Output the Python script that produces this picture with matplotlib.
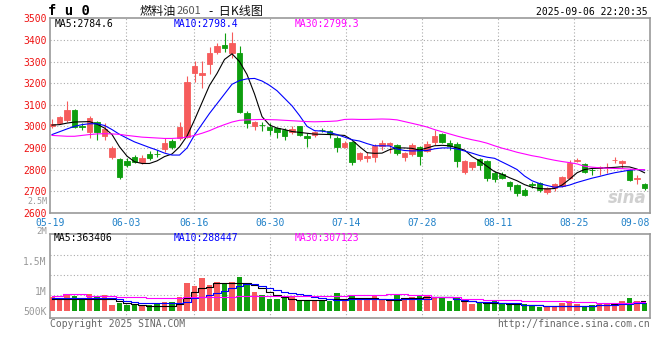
import matplotlib
matplotlib.use('Agg')
import matplotlib.pyplot as plt
import matplotlib.transforms as mtransforms
import numpy as np

# daily candles, 05-19 .. 09-08
opens = [3002, 3017, 3029, 3076, 3000, 2975, 3022, 2957, 2860, 2849,
         2840, 2860, 2833, 2872, 2873, 2895, 2933, 2944, 2950, 3245,
         3238, 3287, 3346, 3377, 3338, 3338, 3060, 3003, 3007, 2998,
         2994, 2983, 2975, 3001, 2957, 2960, 2984, 2978, 2948, 2906,
         2926, 2847, 2855, 2859, 2910, 2913, 2913, 2860, 2870, 2906,
         2886, 2926, 2964, 2921, 2917, 2787, 2813, 2849, 2840, 2782,
         2778, 2741, 2728, 2705, 2733, 2736, 2697, 2713, 2725, 2759,
         2839, 2824, 2799, 2806, 2810, 2842, 2829, 2798, 2757, 2733]
highs = [3034, 3049, 3117, 3080, 3014, 3049, 3026, 3014, 2909, 2855,
         2852, 2867, 2867, 2886, 2890, 2948, 2941, 3019, 3235, 3303,
         3303, 3369, 3384, 3431, 3439, 3374, 3071, 3025, 3021, 3014,
         2998, 2991, 3003, 3003, 2968, 2978, 2994, 2983, 2957, 2932,
         2932, 2883, 2883, 2917, 2937, 2926, 2917, 2883, 2921, 2910,
         2932, 2983, 2968, 2937, 2929, 2844, 2836, 2855, 2844, 2793,
         2790, 2747, 2731, 2716, 2744, 2741, 2721, 2736, 2772, 2844,
         2852, 2829, 2809, 2818, 2829, 2860, 2844, 2802, 2775, 2736]
lows = [2991, 3011, 3019, 2994, 2985, 2948, 2937, 2937, 2847, 2756,
        2813, 2829, 2826, 2844, 2858, 2880, 2895, 2937, 2945, 3207,
        3179, 3241, 3333, 3346, 3315, 3060, 2991, 2983, 2978, 2960,
        2944, 2937, 2963, 2957, 2906, 2952, 2972, 2948, 2880, 2898,
        2821, 2841, 2836, 2836, 2890, 2875, 2867, 2839, 2864, 2821,
        2880, 2914, 2921, 2890, 2813, 2778, 2798, 2798, 2747, 2744,
        2756, 2705, 2679, 2679, 2716, 2697, 2685, 2701, 2721, 2756,
        2836, 2782, 2775, 2775, 2782, 2829, 2809, 2747, 2731, 2705]
closes = [3012, 3043, 3076, 2998, 2997, 3037, 2972, 2988, 2898, 2767,
          2821, 2836, 2855, 2855, 2870, 2921, 2906, 2998, 3207, 3281,
          3249, 3338, 3374, 3364, 3385, 3065, 3014, 3021, 3004, 2983,
          2972, 2957, 2988, 2960, 2944, 2975, 2981, 2963, 2906, 2924,
          2836, 2878, 2862, 2910, 2921, 2921, 2875, 2875, 2914, 2864,
          2918, 2955, 2929, 2911, 2841, 2840, 2833, 2821, 2762, 2755,
          2762, 2725, 2693, 2682, 2730, 2705, 2716, 2731, 2767, 2829,
          2843, 2787, 2797, 2813, 2813, 2846, 2841, 2751, 2760, 2713]

ma5 = [3006, 3008, 3015, 3020, 3021, 3022, 3010, 2992, 2962, 2905,
       2862, 2836, 2828, 2828, 2840, 2860, 2872, 2905, 2955, 3030,
       3110, 3190, 3245, 3310, 3336, 3300, 3240, 3150, 3045, 3006,
       2992, 2985, 2976, 2972, 2968, 2964, 2963, 2962, 2960, 2958,
       2937, 2906, 2878, 2875, 2876, 2892, 2900, 2900, 2898, 2890,
       2900, 2910, 2912, 2910, 2900, 2890, 2860, 2840, 2815, 2790,
       2778, 2762, 2748, 2730, 2718, 2712, 2710, 2712, 2728, 2755,
       2785, 2800, 2805, 2806, 2808, 2810, 2813, 2812, 2802, 2785]
ma10 = [2962, 2975, 2988, 3000, 3008, 3012, 3012, 3004, 2985, 2963,
        2945, 2928, 2915, 2902, 2890, 2876, 2867, 2867, 2900, 2960,
        3010, 3060, 3105, 3150, 3195, 3212, 3220, 3222, 3210, 3190,
        3165, 3130, 3095, 3050, 3000, 2980, 2978, 2972, 2962, 2950,
        2938, 2932, 2920, 2910, 2910, 2909, 2895, 2888, 2886, 2887,
        2888, 2896, 2900, 2900, 2895, 2886, 2876, 2865, 2857, 2852,
        2835, 2818, 2800, 2770, 2748, 2735, 2726, 2718, 2720, 2728,
        2740, 2750, 2760, 2768, 2777, 2785, 2791, 2797, 2800, 2798]
ma30 = [2958, 2956, 2954, 2954, 2958, 2962, 2965, 2966, 2965, 2963,
        2958, 2954, 2950, 2948, 2946, 2944, 2944, 2946, 2950, 2958,
        2968, 2980, 2995, 3008, 3020, 3028, 3030, 3031, 3032, 3031,
        3030, 3028, 3026, 3024, 3022, 3021, 3022, 3023, 3025, 3032,
        3033, 3032, 3032, 3033, 3034, 3033, 3030, 3022, 3014, 3006,
        2997, 2985, 2975, 2965, 2955, 2946, 2938, 2931, 2922, 2910,
        2899, 2890, 2880, 2872, 2864, 2858, 2850, 2843, 2837, 2832,
        2826, 2815, 2811, 2808, 2806, 2805, 2804, 2802, 2800, 2799]

volume = [493e3, 419e3, 617e3, 543e3, 419e3, 617e3, 543e3, 567e3, 222e3, 296e3,
          222e3, 222e3, 173e3, 197e3, 271e3, 321e3, 333e3, 493e3, 1036e3, 912e3,
          1208e3, 949e3, 1073e3, 1036e3, 1073e3, 1245e3, 949e3, 703e3, 567e3, 432e3,
          432e3, 493e3, 493e3, 395e3, 395e3, 395e3, 395e3, 365e3, 666e3, 395e3,
          567e3, 395e3, 395e3, 567e3, 444e3, 419e3, 592e3, 456e3, 493e3, 567e3,
          543e3, 518e3, 456e3, 370e3, 456e3, 321e3, 247e3, 321e3, 321e3, 345e3,
          271e3, 271e3, 271e3, 247e3, 197e3, 148e3, 148e3, 173e3, 296e3, 345e3,
          247e3, 173e3, 197e3, 247e3, 271e3, 271e3, 370e3, 469e3, 370e3, 296e3]
vol_ma5 = [432e3, 432e3, 432e3, 432e3, 432e3, 432e3, 432e3, 432e3, 432e3, 370e3,
           296e3, 247e3, 210e3, 173e3, 173e3, 173e3, 173e3, 247e3, 456e3, 703e3,
           826e3, 888e3, 1011e3, 1011e3, 1011e3, 1011e3, 1011e3, 949e3, 826e3, 703e3,
           580e3, 493e3, 432e3, 395e3, 395e3, 395e3, 395e3, 432e3, 432e3, 432e3,
           456e3, 456e3, 456e3, 456e3, 420e3, 395e3, 395e3, 456e3, 456e3, 456e3,
           493e3, 493e3, 493e3, 493e3, 420e3, 370e3, 345e3, 320e3, 296e3, 271e3,
           271e3, 259e3, 247e3, 222e3, 210e3, 197e3, 173e3, 173e3, 173e3, 173e3,
           185e3, 173e3, 173e3, 197e3, 210e3, 235e3, 271e3, 296e3, 320e3, 363e3]
vol_ma10 = [456e3, 456e3, 456e3, 456e3, 456e3, 456e3, 456e3, 456e3, 456e3, 420e3,
            370e3, 308e3, 271e3, 271e3, 271e3, 271e3, 271e3, 271e3, 333e3, 456e3,
            518e3, 580e3, 666e3, 740e3, 826e3, 912e3, 974e3, 986e3, 912e3, 826e3,
            765e3, 703e3, 666e3, 617e3, 580e3, 518e3, 481e3, 420e3, 395e3, 395e3,
            420e3, 420e3, 420e3, 420e3, 420e3, 420e3, 420e3, 420e3, 420e3, 420e3,
            420e3, 493e3, 493e3, 493e3, 444e3, 395e3, 370e3, 333e3, 333e3, 333e3,
            271e3, 271e3, 271e3, 210e3, 210e3, 210e3, 173e3, 173e3, 173e3, 173e3,
            173e3, 173e3, 185e3, 197e3, 210e3, 222e3, 247e3, 259e3, 271e3, 288e3]
vol_ma30 = [543e3, 543e3, 617e3, 617e3, 617e3, 543e3, 543e3, 543e3, 543e3, 493e3,
            493e3, 493e3, 493e3, 456e3, 456e3, 456e3, 456e3, 456e3, 518e3, 518e3,
            518e3, 518e3, 518e3, 518e3, 518e3, 543e3, 543e3, 543e3, 543e3, 543e3,
            543e3, 543e3, 543e3, 543e3, 543e3, 543e3, 543e3, 543e3, 543e3, 543e3,
            580e3, 580e3, 580e3, 580e3, 580e3, 617e3, 617e3, 617e3, 567e3, 567e3,
            567e3, 518e3, 518e3, 518e3, 518e3, 444e3, 444e3, 444e3, 395e3, 395e3,
            395e3, 395e3, 395e3, 370e3, 370e3, 370e3, 370e3, 370e3, 370e3, 333e3,
            333e3, 333e3, 333e3, 300e3, 300e3, 300e3, 300e3, 300e3, 307e3, 307e3]

tick_index = [0, 10, 19, 29, 39, 49, 59, 69, 79]
tick_labels = ['05-19', '06-03', '06-16', '06-30', '07-14', '07-28', '08-11', '08-25', '09-08']
price_ticks = [2600, 2700, 2800, 2900, 3000, 3100, 3200, 3300, 3400, 3500]

price_head = [('MA5:2784.6', 'black'), ('MA10:2798.4', '#0000ff'), ('MA30:2799.3', '#ff00ff')]
vol_head = [('MA5:363406', 'black'), ('MA10:288447', '#0000ff'), ('MA30:307123', '#ff00ff')]

UP = '#f65c5c'
DOWN = '#0e9e0e'
GRID = '#aaaaaa'
MONO = 'DejaVu Sans Mono'
CJK = ['Noto Sans CJK SC', 'DejaVu Sans']

W, H = 660, 360
fig = plt.figure(figsize=(6.6, 3.6), dpi=100)


def box(left, top, right, bottom):
    return [left / W, 1 - bottom / H, (right - left) / W, (bottom - top) / H]


def ftext(x, y, s, **kw):
    return fig.text(x / W, 1 - y / H, s, va='center', **kw)


x = np.arange(len(closes))
o = np.array(opens, float)
c = np.array(closes, float)
up = c >= o
colors = np.where(up, UP, DOWN)
xlim = (-0.27, 79.73)
# sina places its date grid on a slightly different step than the candles
grid_x = [xlim[0] + k * (xlim[1] - xlim[0]) / 79 for k in tick_index]

ax = fig.add_axes(box(50, 18.4, 650, 212.7))
ax.vlines(x, lows, highs, colors=colors, linewidth=0.8, zorder=3)
ax.bar(x, np.abs(c - o), bottom=np.minimum(o, c), width=0.72, color=colors,
       edgecolor=colors, linewidth=0.6, zorder=4)
ax.plot(x, ma5, color='black', lw=0.8, zorder=5)
ax.plot(x, ma10, color='#0000ff', lw=0.8, zorder=5)
ax.plot(x, ma30, color='#ff00ff', lw=0.8, zorder=5)
ax.set_xlim(*xlim)
ax.set_ylim(2600, 3500)
for y in price_ticks[1:-1]:
    ax.axhline(y, color=GRID, lw=0.8, ls=(0, (1, 2)), zorder=1)
for gx in grid_x[1:-1]:
    ax.axvline(gx, color=GRID, lw=0.8, ls=(0, (1, 2)), zorder=1)
ax.set_yticks(price_ticks)
ax.set_yticklabels([str(t) for t in price_ticks], color='#ee1111',
                   fontfamily=MONO, fontsize=7)
shift = mtransforms.ScaledTranslation(0, 0.02, fig.dpi_scale_trans)
for lab in ax.get_yticklabels():
    lab.set_transform(lab.get_transform() + shift)
ax.set_xticks(grid_x)
ax.set_xticklabels(tick_labels, color='#1f80c8', fontfamily=MONO, fontsize=7)
ax.get_xticklabels()[-1].set_ha('right')
ax.tick_params(axis='y', length=0, pad=2.5)
ax.tick_params(axis='x', length=0, pad=3.5)
for s in ax.spines.values():
    s.set_color('#999999')
    s.set_linewidth(1.2)
ax.text(0.995, 0.03, 'sina', transform=ax.transAxes, ha='right', va='bottom',
        fontsize=12, fontweight='bold', style='italic', color='#d0d0d0', zorder=2)

vx = fig.add_axes(box(50, 234.3, 650, 318.3))
vx.bar(x, volume, width=0.72, color=colors, zorder=3)
vx.plot(x, vol_ma5, color='black', lw=0.8, drawstyle='steps-mid', zorder=4)
vx.plot(x, vol_ma10, color='#0000ff', lw=0.8, drawstyle='steps-mid', zorder=4)
vx.plot(x, vol_ma30, color='#ff00ff', lw=0.8, drawstyle='steps-mid', zorder=4)
vx.set_xlim(*xlim)
vx.set_ylim(-281e3, 2827e3)
for v in [2.06e6, 1.32e6, 0.58e6]:
    vx.axhline(v, color=GRID, lw=0.8, ls=(0, (1, 2)), zorder=1)
for gx in grid_x[1:-1]:
    vx.axvline(gx, color=GRID, lw=0.8, ls=(0, (1, 2)), zorder=1)
vx.set_xticks([])
vx.set_yticks([1.84e6, 0.73e6, 0.0])
vx.set_yticklabels(['1.5M', '1M', '500K'], color='#999999', fontfamily=MONO, fontsize=7)
vx.tick_params(length=0, pad=2.5)
for s in vx.spines.values():
    s.set_color('#999999')
    s.set_linewidth(1.2)

# header texts
ftext(48, 11, 'f u 0', fontfamily=MONO, fontweight='bold', fontsize=10, color='black')
ftext(140, 11, '燃料油', fontfamily=CJK, fontsize=8.7, color='#111111')
ftext(177, 11.5, '2601', fontfamily=CJK, fontsize=8, color='#555555')
ftext(209, 11, '-  日K线图', fontfamily=CJK, fontsize=8.7, color='#111111')
ftext(648, 12, '2025-09-06 22:20:35', ha='right', fontfamily=MONO, fontsize=7, color='black')
for (s, col), px in zip(price_head, [55, 174, 295]):
    ftext(px, 24, s, fontfamily=MONO, fontsize=7, color=col)
for (s, col), px in zip(vol_head, [54, 174, 295]):
    ftext(px, 238, s, fontfamily=MONO, fontsize=7, color=col)
ftext(47, 201, '2.5M', ha='right', fontfamily=MONO, fontsize=6, color='#999999')
ftext(47, 232, '2M', ha='right', fontfamily=MONO, fontsize=6.5, color='#999999')
ftext(50, 324, 'Copyright 2025 SINA.COM', fontfamily=MONO, fontsize=7, color='#666666')
ftext(650, 324, 'http://finance.sina.com.cn', ha='right', fontfamily=MONO, fontsize=7,
      color='#666666')

fig.savefig('out.png', dpi=100)
